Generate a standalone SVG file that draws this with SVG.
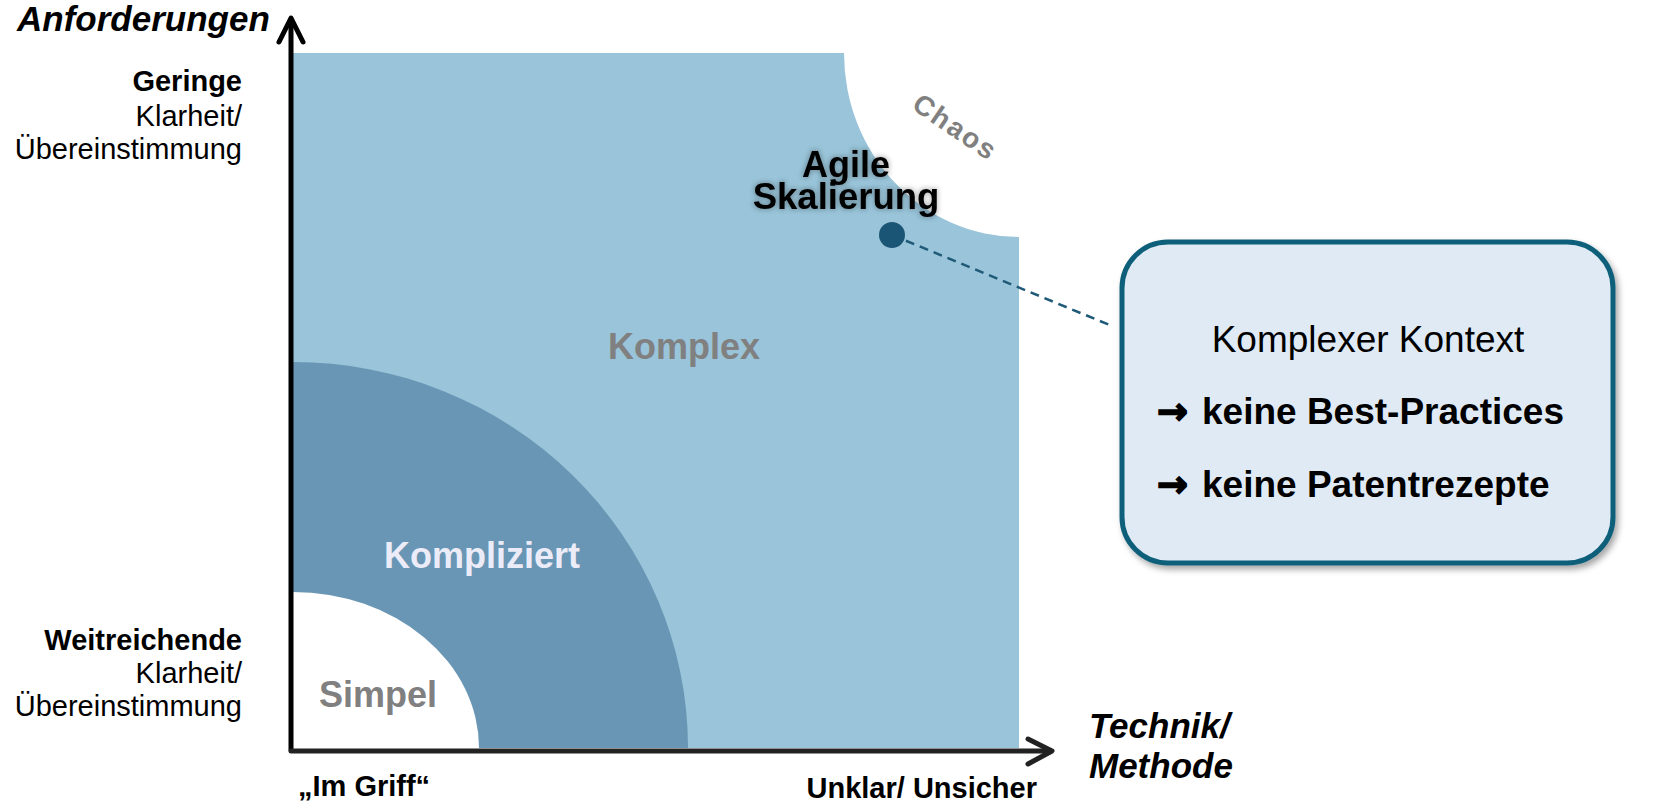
<svg xmlns="http://www.w3.org/2000/svg" width="1664" height="804" viewBox="0 0 1664 804">
<defs>
<style>
.ax{font-family:"Liberation Sans",Arial,sans-serif;font-weight:bold;font-style:italic;font-size:35px;fill:#000}
.lb{font-family:"Liberation Sans",Arial,sans-serif;font-size:29px;fill:#000}
.b{font-weight:bold}
.zone{font-family:"Liberation Sans",Arial,sans-serif;font-weight:bold;font-size:36px;fill:#808080}
.axis{stroke-width:5;fill:none;stroke-linecap:round;stroke-linejoin:round}
.box{font-family:"Liberation Sans",Arial,sans-serif;font-size:37px;fill:#000}
.arr{font-family:"DejaVu Sans",sans-serif;font-weight:bold;stroke:#000;stroke-width:1.6}
</style>
<filter id="glow" x="-20%" y="-30%" width="140%" height="160%">
<feMorphology in="SourceAlpha" operator="dilate" radius="1" result="d"/>
<feGaussianBlur in="d" stdDeviation="2.5" result="bl"/>
<feFlood flood-color="#000000" flood-opacity="0.25"/>
<feComposite in2="bl" operator="in" result="g"/>
<feMerge><feMergeNode in="g"/><feMergeNode in="SourceGraphic"/></feMerge>
</filter>
<filter id="shadow" x="-10%" y="-10%" width="120%" height="125%">
<feDropShadow dx="3" dy="4" stdDeviation="3" flood-color="#000" flood-opacity="0.35"/>
</filter>
</defs>
<rect width="1664" height="804" fill="#ffffff"/>

<g id="komplex-area">
<path d="M293,53 L844,53 A175,184 0 0 0 1019,237 L1019,748 L293,748 Z" fill="#99c4d9"/>
</g>
<g id="kompliziert-area">
<path d="M293,362 A395,386 0 0 1 688,748 L293,748 Z" fill="#6896b4"/>
</g>
<g id="simpel-area">
<path d="M293,592 A186,156 0 0 1 479,748 L293,748 Z" fill="#ffffff"/>
</g>

<g id="labels-zones">
<text class="zone" x="684" y="359" text-anchor="middle">Komplex</text>
<text class="zone" x="482" y="568" text-anchor="middle" style="fill:#ececf8">Kompliziert</text>
<text class="zone" x="378" y="707" text-anchor="middle">Simpel</text>
<text class="zone" x="0" y="0" text-anchor="middle" style="font-size:28px;letter-spacing:2px" transform="translate(950,135) rotate(34)">Chaos</text>
</g>

<g id="axes">
<path class="axis" d="M291,750 L291,22" stroke="#000"/>
<path class="axis" d="M279,42 L291,18 L303,42" stroke="#000"/>
<path class="axis" d="M291,751 L1048,751" stroke="#222"/>
<path class="axis" d="M1028,739 L1052,751 L1028,764" stroke="#222"/>
</g>

<g id="axis-labels">
<text class="ax" x="17" y="31">Anforderungen</text>
<text class="ax" x="1089" y="738">Technik/</text>
<text class="ax" x="1089" y="778">Methode</text>
<text class="lb b" x="242" y="91" text-anchor="end">Geringe</text>
<text class="lb" x="242" y="126" text-anchor="end">Klarheit/</text>
<text class="lb" x="242" y="159" text-anchor="end">Übereinstimmung</text>
<text class="lb b" x="242" y="650" text-anchor="end">Weitreichende</text>
<text class="lb" x="242" y="683" text-anchor="end">Klarheit/</text>
<text class="lb" x="242" y="716" text-anchor="end">Übereinstimmung</text>
<text class="lb b" x="298" y="796">„Im Griff“</text>
<text class="lb b" x="1037" y="798" text-anchor="end">Unklar/ Unsicher</text>
</g>

<g id="connectors">
<line x1="892" y1="235" x2="1112" y2="326" stroke="#1f5a78" stroke-width="2.5" stroke-dasharray="9,6"/>
</g>

<g id="agile-skalierung">
<circle cx="892" cy="235" r="13" fill="#1b5575"/>
<g filter="url(#glow)">
<text class="zone" x="846" y="177" text-anchor="middle" style="fill:#000;font-size:36px">Agile</text>
<text class="zone" x="846" y="209" text-anchor="middle" style="fill:#000;font-size:36.5px">Skalierung</text>
</g>
</g>

<g id="context-box">
<rect x="1122" y="242" width="491" height="321" rx="46" fill="#dfeaf5" stroke="#0e5f7a" stroke-width="5" filter="url(#shadow)"/>
<text class="box" x="1368" y="352" text-anchor="middle">Komplexer Kontext</text>
<text class="box b" x="1157" y="424"><tspan class="arr">→</tspan><tspan x="1202">keine Best-Practices</tspan></text>
<text class="box b" x="1157" y="497"><tspan class="arr">→</tspan><tspan x="1202">keine Patentrezepte</tspan></text>
</g>
</svg>
